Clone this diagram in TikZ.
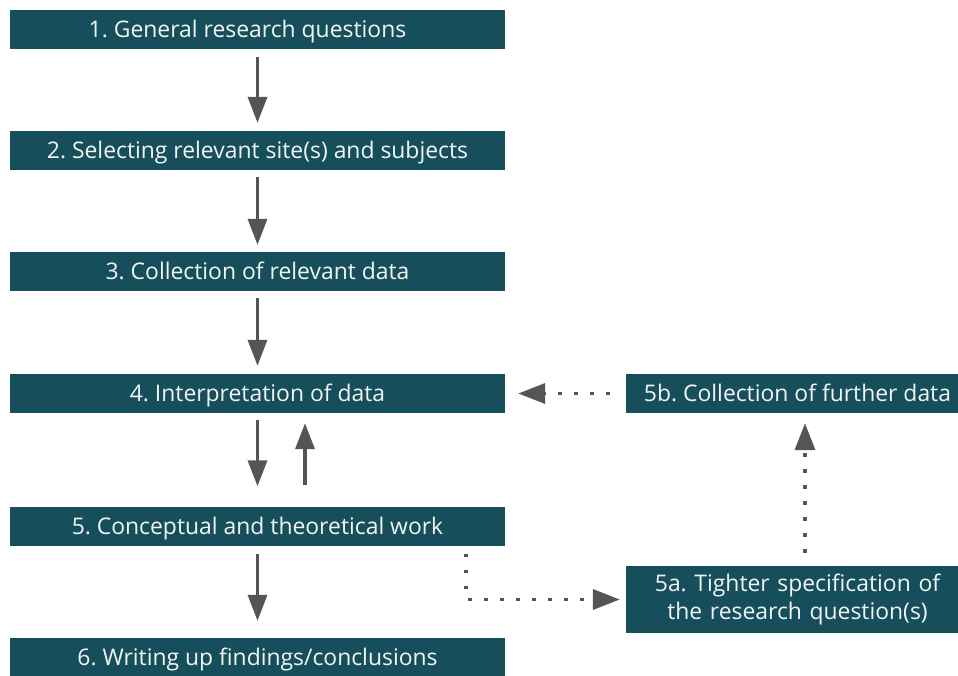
\documentclass[tikz,border=0pt]{standalone}
\usepackage{fontspec}
\setmainfont{Open Sans}
\usetikzlibrary{arrows.meta}
\definecolor{boxc}{HTML}{164F5B}
\definecolor{arrc}{HTML}{555555}
\definecolor{txtc}{HTML}{F2F5F5}
\frenchspacing
\begin{document}
\begin{tikzpicture}[x=1pt,y=-1pt,
  stepbox/.style={fill=boxc,draw=none,text=txtc,minimum width=495pt,minimum height=39pt,inner sep=0pt,font=\fontsize{22.9}{28}\selectfont,align=center,text height=16.4pt,text depth=0pt},
  sidebox/.style={stepbox,minimum width=343pt},
  arr/.style={draw=arrc,line width=3.5pt,-{Triangle[length=26pt,width=19pt]}},
  dotarr/.style={draw=arrc,line width=3.5pt,dash pattern=on 3.5pt off 12.5pt,-{Triangle[length=27pt,width=20pt]}}]
\useasboundingbox (0,0) rectangle (958,675);
\begin{scope}
\clip (0,0) rectangle (958,675);
\node[stepbox] (b1) at (257.5,29.5) {1. General research questions\hspace*{20pt}};
\node[stepbox] (b2) at (257.5,150.5) {2. Selecting relevant site(s) and subjects};
\node[stepbox] (b3) at (257.5,271.5) {3. Collection of relevant data};
\node[stepbox] (b4) at (257.5,393.5) {4. Interpretation of data};
\node[stepbox] (b5) at (257.5,526) {5. Conceptual and theoretical work};
\node[stepbox] (b6) at (257.5,657.5) {6. Writing up findings/conclusions};
\node[sidebox] (b5b) at (797.5,393.5) {5b. Collection of further data};
\node[sidebox,minimum height=67pt,text width=335pt,text height=,text depth=] (b5a) at (797.5,599.5) {5a. Tighter specification of\\the research question(s)};
\end{scope}
\draw[arr,shorten <=8pt,shorten >=8pt] (b1.south) -- (b2.north);
\draw[arr,shorten <=7pt,shorten >=7pt] (b2.south) -- (b3.north);
\draw[arr,shorten <=7pt,shorten >=8pt] (b3.south) -- (b4.north);
\draw[arr,shorten <=7pt,shorten >=20pt] (b4.south) -- (b5.north);
\draw[arr,shorten <=21pt,shorten >=10pt] ([xshift=47.5pt]b5.north) -- ([xshift=47.5pt]b4.south);
\draw[arr,shorten <=8pt,shorten >=17pt] (b5.south) -- (b6.north);
\draw[dotarr,shorten <=16pt,shorten >=13pt] (b5b.west) -- (b4.east);
\draw[dotarr,shorten <=13pt,shorten >=10pt] ([xshift=7.5pt]b5a.north) -- ([xshift=7.5pt]b5b.south);
\draw[dotarr,shorten <=8pt,shorten >=6pt] ([xshift=208.5pt]b5.south) |- (b5a.west);
\end{tikzpicture}
\end{document}
